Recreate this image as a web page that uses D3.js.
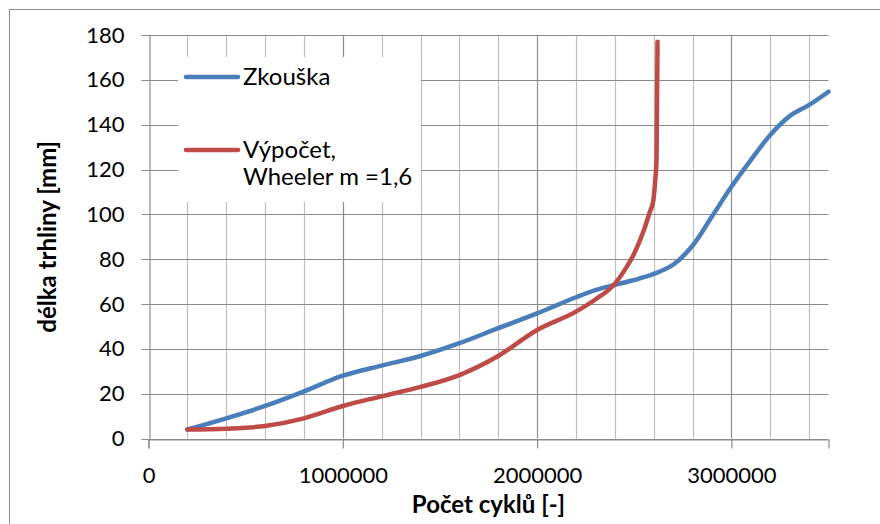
<!DOCTYPE html>
<html>
<head>
<meta charset="utf-8">
<script src="https://cdn.jsdelivr.net/npm/d3@7"></script>
<style>
  body { margin: 0; background: #fff; }
  svg { display: block; font-family: Lato, "Open Sans", sans-serif; }
</style>
</head>
<body>
<svg id="chart" width="880" height="524"></svg>
<script>
// series: Zkouška (test) and Výpočet (calculation, Wheeler m = 1,6)
const seriesNames = ["Zkouška", "Výpočet,|Wheeler m =1,6"];
const zkouskaCycles = [200000, 400000, 600000, 800000, 1000000, 1200000, 1400000, 1600000, 1800000, 2000000,
  2200000, 2300000, 2400000, 2500000, 2600000, 2700000, 2800000, 2900000, 3000000, 3100000, 3200000,
  3300000, 3400000, 3500000];
const zkouskaLength = [4, 9, 14.5, 21, 28, 32.5, 36.8, 42.5, 49.2, 55.8,
  63, 66.2, 68.5, 70.7, 73.4, 77.5, 86, 99, 112.3, 124.2, 135.4,
  143.8, 148.8, 154.7];
const vypocetCycles = [200000, 400000, 600000, 800000, 1000000, 1200000, 1400000, 1600000, 1800000, 2000000,
  2200000, 2300000, 2400000, 2450000, 2500000, 2550000, 2580000, 2598000, 2608000, 2615000, 2620000];
const vypocetLength = [4, 4.4, 5.6, 9, 14.5, 18.8, 23, 28.3, 36.8, 48.4,
  56.6, 62, 69, 75, 82.5, 93, 101, 106, 115, 125, 177];
const xTicks = [0, 1000000, 2000000, 3000000];
const yTicks = [0, 20, 40, 60, 80, 100, 120, 140, 160, 180];
const colors = ["#4a7ebb", "#be4b48"];

const svg = d3.select("#chart");
const x = d3.scaleLinear().domain([0, 3500000]).range([148.5, 828.5]);
const y = d3.scaleLinear().domain([0, 180]).range([438.5, 35]);
const fontSize = 22;
const textSize = 24;

// outer chart frame
svg.append("rect")
  .attr("x", 9.5).attr("y", 9.5)
  .attr("width", 900).attr("height", 600)
  .attr("fill", "#fff").attr("stroke", "#8c8c8c").attr("stroke-width", 1);

// grid: minor verticals every 200000, major at the labelled ticks
const grid = svg.append("g");
grid.selectAll(".minor")
  .data(d3.range(200000, 3500000, 200000).filter(v => v % 1000000 != 0))
  .join("line")
  .attr("x1", d => Math.round(x(d)) + 0.5).attr("x2", d => Math.round(x(d)) + 0.5)
  .attr("y1", y(180)).attr("y2", y(0))
  .attr("stroke", "#bfbfbf").attr("stroke-width", 1.2);
grid.selectAll(".major")
  .data(xTicks.slice(1))
  .join("line")
  .attr("x1", d => Math.round(x(d)) + 0.5).attr("x2", d => Math.round(x(d)) + 0.5)
  .attr("y1", y(180)).attr("y2", y(0))
  .attr("stroke", "#8c8c8c").attr("stroke-width", 1.2);
grid.selectAll(".hline")
  .data(yTicks)
  .join("line")
  .attr("x1", x(0) - 7).attr("x2", x(3500000))
  .attr("y1", d => Math.round(y(d)) + 0.5).attr("y2", d => Math.round(y(d)) + 0.5)
  .attr("stroke", "#8c8c8c").attr("stroke-width", 1.2);

// axes
const xAxis = svg.append("g")
  .attr("transform", `translate(0, ${Math.round(y(0)) + 0.5})`)
  .call(d3.axisBottom(x).tickValues(xTicks).tickSize(9).tickPadding(30).tickFormat(d3.format("d")));
const yAxis = svg.append("g")
  .attr("transform", `translate(${Math.round(x(0)) + 0.5}, 0)`)
  .call(d3.axisLeft(y).tickValues(yTicks).tickSize(0).tickPadding(25));
[xAxis, yAxis].forEach(a => {
  a.select(".domain").attr("stroke", "#8c8c8c").attr("stroke-width", 1.2);
  a.selectAll(".tick line").attr("stroke", "#8c8c8c").attr("stroke-width", 1.2);
  a.selectAll("text").attr("font-size", fontSize).attr("font-family", "Lato, sans-serif").attr("fill", "#000");
});
xAxis.selectAll("text").attr("dy", "0.2em");

// axis titles
svg.append("text")
  .attr("x", (x(0) + x(3500000)) / 2).attr("y", 513)
  .attr("text-anchor", "middle").attr("font-size", textSize).attr("font-weight", "bold")
  .text("Počet cyklů [-]");
svg.append("text")
  .attr("transform", `translate(56, ${(y(0) + y(180)) / 2}) rotate(-90)`)
  .attr("text-anchor", "middle").attr("font-size", textSize).attr("font-weight", "bold")
  .text("délka trhliny [mm]");

// lines (measured curve smoothed like the spreadsheet, calculated curve kept monotone)
const curves = [d3.curveCatmullRom.alpha(0.5), d3.curveMonotoneX];
const series = [d3.zip(zkouskaCycles, zkouskaLength), d3.zip(vypocetCycles, vypocetLength)];
svg.append("g").selectAll("path")
  .data(series)
  .join("path")
  .attr("d", (d, i) => d3.line().x(p => x(p[0])).y(p => y(p[1])).curve(curves[i])(d))
  .attr("fill", "none")
  .attr("stroke", (d, i) => colors[i])
  .attr("stroke-width", 4.5)
  .attr("stroke-linecap", "round")
  .attr("stroke-linejoin", "round");

// legend
const legend = svg.append("g");
legend.append("rect")
  .attr("x", 178).attr("y", 57).attr("width", 243).attr("height", 145)
  .attr("fill", "#fff");
const legendY = [77, 150];
seriesNames.forEach((name, i) => {
  legend.append("line")
    .attr("x1", 186).attr("x2", 238)
    .attr("y1", legendY[i]).attr("y2", legendY[i])
    .attr("stroke", colors[i]).attr("stroke-width", 4.5).attr("stroke-linecap", "round");
  const t = legend.append("text")
    .attr("x", 243).attr("y", legendY[i])
    .attr("font-size", textSize);
  name.split("|").forEach((part, j) => {
    t.append("tspan").attr("x", 243).attr("dy", j == 0 ? "0.34em" : 27).text(part);
  });
});
</script>
</body>
</html>
